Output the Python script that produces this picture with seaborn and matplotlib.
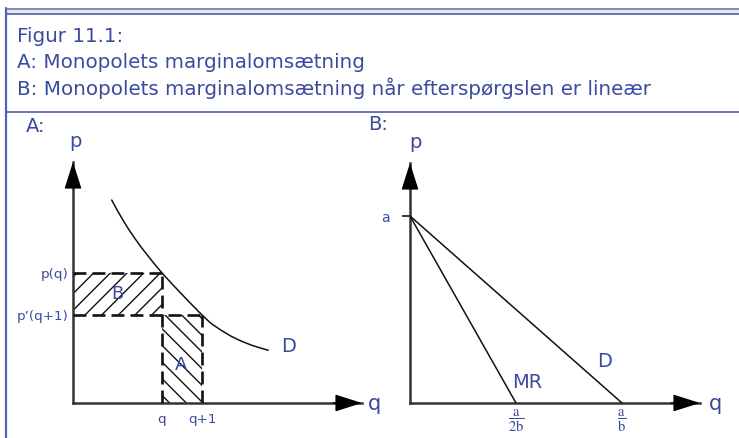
import matplotlib
matplotlib.use("Agg")
import matplotlib.pyplot as plt
from matplotlib.patches import Rectangle
import seaborn as sns

# --- content -------------------------------------------------------------
title_lines = [
    "Figur 11.1:",
    "A: Monopolets marginalomsætning",
    "B: Monopolets marginalomsætning når efterspørgslen er lineær",
]

# Panel A: a falling demand curve and the two price/quantity points
demand_q = [0.967, 1.10, 1.25, 1.40, 1.55, 1.70, 1.85, 2.00, 2.225,
            2.45, 2.70, 2.95, 3.225, 3.45, 3.70, 3.95, 4.20, 4.45,
            4.70, 4.883]
demand_p = [5.075, 4.83, 4.57, 4.33, 4.11, 3.90, 3.71, 3.52, 3.25,
            3.005, 2.74, 2.48, 2.20, 1.99, 1.82, 1.67, 1.55, 1.45,
            1.37, 1.32]
q0, q1 = 2.225, 3.225          # q and q+1
p_q0, p_q1 = 3.25, 2.20        # p(q) and p'(q+1)
a_xticklabels = ["q", "q+1"]
a_yticklabels = ["p(q)", "p\u2019(q+1)"]

# Panel B: linear demand p = a - b q and its marginal revenue p = a - 2 b q
a_int, b_slope = 10.0, 1.0
b_xticklabels = [r"$\dfrac{\mathrm{a}}{\mathrm{2b}}$",
                 r"$\dfrac{\mathrm{a}}{\mathrm{b}}$"]
b_yticklabels = ["a"]

TXT = "#3b4a9e"
INK = "#111111"
AX = "#333333"
W, H = 739, 438

sns.set_theme(style="white")
plt.rcParams["font.family"] = ["DejaVu Sans"]
plt.rcParams["mathtext.fontset"] = "stix"
plt.rcParams["hatch.linewidth"] = 1.0

fig = plt.figure(figsize=(W / 100, H / 100), dpi=100)
fig.patch.set_facecolor("white")


def frac_box(x0, y0, x1, y1):
    """figure-fraction rectangle from pixel corners (top-left origin)."""
    return [x0 / W, 1 - y1 / H, (x1 - x0) / W, (y1 - y0) / H]


# --- frame and heading ---------------------------------------------------
bg = fig.add_axes([0, 0, 1, 1], zorder=0)
bg.set_xlim(0, W)
bg.set_ylim(H, 0)
bg.axis("off")
bg.add_patch(Rectangle((6, 8), W, 7, facecolor="#e6e6ea", edgecolor="none"))
bg.plot([6, W], [8.8, 8.8], color="#7e89c0", lw=1.4)
bg.plot([6, W], [14.2, 14.2], color="#6674b4", lw=1.4)
bg.plot([6, 6], [8, H], color="#5464b4", lw=1.6)
bg.plot([6, W], [112, 112], color="#4b5aa6", lw=1.2)
for i, line in enumerate(title_lines):
    bg.text(17, 42 + 26.5 * i, line, color=TXT, fontsize=14.3,
            ha="left", va="baseline")
bg.text(26, 127, "A:", color=TXT, fontsize=14, ha="left", va="center")
bg.text(368, 125, "B:", color=TXT, fontsize=14, ha="left", va="center")


def style_axes(ax):
    ax.set_facecolor("none")
    for side in ("top", "right"):
        ax.spines[side].set_visible(False)
    for side in ("left", "bottom"):
        ax.spines[side].set_color(AX)
        ax.spines[side].set_linewidth(1.8)
    head = "-|>,head_length=0.85,head_width=0.27"
    kw = dict(arrowstyle=head, color="black", lw=1, shrinkA=0, shrinkB=0,
              mutation_scale=20)
    ax.annotate("", xy=(0, 1), xytext=(0, 0.9), xycoords="axes fraction",
                arrowprops=kw, annotation_clip=False)
    ax.annotate("", xy=(1, 0), xytext=(0.9, 0), xycoords="axes fraction",
                arrowprops=kw, annotation_clip=False)


# --- panel A -------------------------------------------------------------
axA = fig.add_axes(frac_box(73, 162, 362, 403), zorder=2)
axA.set_xlim(0, 7.225)
axA.set_ylim(0, 6.025)
style_axes(axA)

axA.add_patch(Rectangle((0, p_q1), q0, p_q0 - p_q1, facecolor="none",
                        edgecolor=INK, hatch="//", lw=0, zorder=1))
axA.add_patch(Rectangle((q0, 0), q1 - q0, p_q1, facecolor="none",
                        edgecolor=INK, hatch="\\\\", lw=0, zorder=1))
sns.lineplot(x=demand_q, y=demand_p, sort=False, color=INK, lw=1.1,
             ax=axA, zorder=3)
dash = dict(color=INK, lw=1.9, ls=(0, (4.9, 2.3)), zorder=4)
axA.plot([0, q0], [p_q0, p_q0], **dash)
axA.plot([q0, q0], [0, p_q0], **dash)
axA.plot([0, q1], [p_q1, p_q1], **dash)
axA.plot([q1, q1], [0, p_q1], **dash)

axA.set_xticks([q0, q1], a_xticklabels)
axA.set_yticks([p_q1, p_q0], a_yticklabels[::-1])
axA.tick_params(axis="both", length=0, colors=TXT, labelsize=9.7)
axA.tick_params(axis="x", pad=7)
axA.tick_params(axis="y", pad=3.5)

axA.text(1.1, 2.72, "B", color=TXT, fontsize=13, ha="center", va="center")
axA.text(2.7, 0.95, "A", color=TXT, fontsize=13, ha="center", va="center")
axA.text(5.4, 1.42, "D", color=TXT, fontsize=14, ha="center", va="center")
axA.annotate("p", xy=(0, 1), xycoords="axes fraction", xytext=(2, 20),
             textcoords="offset pixels", color=TXT, fontsize=14,
             ha="center", va="center")
axA.annotate("q", xy=(1, 0), xycoords="axes fraction", xytext=(12, -1),
             textcoords="offset pixels", color=TXT, fontsize=15,
             ha="center", va="center")

# --- panel B -------------------------------------------------------------
axB = fig.add_axes(frac_box(410, 163, 700, 403), zorder=2)
axB.set_xlim(0, 290 / 21.2)
axB.set_ylim(0, 240 / 18.7)
style_axes(axB)

sns.lineplot(x=[0, a_int / b_slope], y=[a_int, 0], color=INK, lw=1.1,
             ax=axB, zorder=3)
sns.lineplot(x=[0, a_int / (2 * b_slope)], y=[a_int, 0], color=INK, lw=1.1,
             ax=axB, zorder=3)

axB.set_xticks([a_int / (2 * b_slope), a_int / b_slope], b_xticklabels)
axB.set_yticks([a_int], b_yticklabels)
axB.tick_params(axis="x", length=0, colors=TXT, labelsize=10.5, pad=3)
axB.tick_params(axis="y", length=5.8, width=1.4, color=AX,
                labelcolor=TXT, labelsize=10, pad=9, left=True)

axB.text(5.55, 1.12, "MR", color=TXT, fontsize=14, ha="center",
         va="center")
axB.text(9.2, 2.2, "D", color=TXT, fontsize=14, ha="center", va="center")
axB.annotate("p", xy=(0, 1), xycoords="axes fraction", xytext=(5, 20),
             textcoords="offset pixels", color=TXT, fontsize=14,
             ha="center", va="center")
axB.annotate("q", xy=(1, 0), xycoords="axes fraction", xytext=(15, -1),
             textcoords="offset pixels", color=TXT, fontsize=15,
             ha="center", va="center")

fig.savefig("out.png", dpi=100)
